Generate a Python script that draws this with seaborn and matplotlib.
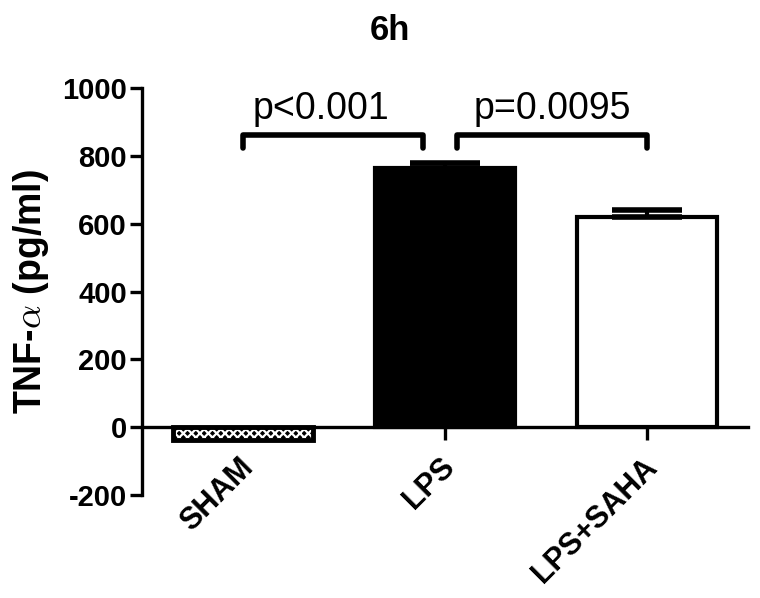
import matplotlib
matplotlib.use("Agg")
import matplotlib.pyplot as plt
import matplotlib.transforms as mtransforms
import seaborn as sns
import pandas as pd

# data
groups = ["SHAM", "LPS", "LPS+SAHA"]
means = [-38, 765, 620]
sems = [0, 13, 20]
comparisons = [("SHAM", "LPS", "p<0.001"), ("LPS", "LPS+SAHA", "p=0.0095")]
bracket_y = 862
bracket_leg = 822

sns.set_theme(style="ticks")
plt.rcParams["font.family"] = ["Liberation Sans", "DejaVu Sans"]
plt.rcParams["mathtext.fontset"] = "cm"
plt.rcParams["axes.unicode_minus"] = False
plt.rcParams["hatch.linewidth"] = 1.6
for k in ["text.color", "axes.labelcolor", "xtick.color", "ytick.color", "axes.edgecolor"]:
    plt.rcParams[k] = "black"

df = pd.DataFrame({"group": groups, "mean": means, "sem": sems})

fig = plt.figure(figsize=(7.6, 5.98), dpi=100)
ax = fig.add_axes([0.187, 0.172, 0.797, 0.681])

sns.barplot(data=df, x="group", y="mean", order=groups, errorbar=None,
            width=0.69, ax=ax, linewidth=3, edgecolor="black")
fills = ["black", "black", "white"]
for patch, fc, grp in zip(ax.patches, fills, groups):
    patch.set_facecolor(fc)
    patch.set_edgecolor("black")
    if grp == "SHAM":
        patch.set_hatch("xxxx")
        patch.set_edgecolor("white")
        patch.set_linewidth(0)

# black outline drawn on top of the hatched SHAM bar
sham = ax.patches[0]
ax.add_patch(plt.Rectangle((sham.get_x(), sham.get_y()), sham.get_width(), sham.get_height(),
                           fill=False, edgecolor="black", linewidth=3.5, zorder=3))

# upward SEM bars
for i, (m, s) in enumerate(zip(means, sems)):
    if s > 0:
        ax.errorbar(i, m, yerr=[[0], [s]], fmt="none", ecolor="black",
                    elinewidth=3, capsize=25, capthick=4, zorder=4)

# significance brackets
for a, b, txt in comparisons:
    ia, ib = groups.index(a), groups.index(b)
    if ia == 0:
        x1, x2 = ia, ib - 0.11
        tx = (x1 + x2) / 2 - 0.06
    else:
        x1, x2 = ia + 0.06, ib
        tx = (x1 + x2) / 2
    ax.plot([x1, x1, x2, x2], [bracket_leg, bracket_y, bracket_y, bracket_leg],
            color="black", lw=4, solid_capstyle="round", solid_joinstyle="round")
    ax.text(tx, bracket_y + 22, txt, ha="center", va="bottom", fontsize=27)

ax.set_xlim(-0.5, 2.5)
ax.set_ylim(-200, 1000)
ax.set_yticks([-200, 0, 200, 400, 600, 800, 1000])
ax.spines["bottom"].set_position(("data", 0))
ax.spines["top"].set_visible(False)
ax.spines["right"].set_visible(False)
for sp in ["left", "bottom"]:
    ax.spines[sp].set_linewidth(2.4)
ax.tick_params(axis="both", width=2.4, length=9, labelsize=21)
ax.tick_params(axis="y", pad=2)
ax.tick_params(axis="x", pad=9)
for lab in ax.get_yticklabels():
    lab.set_fontweight("bold")
ax.set_xticks(range(len(groups)))
ax.set_xticklabels(groups, rotation=45, ha="right", va="top", rotation_mode="anchor",
                   fontweight="bold", fontsize=22)
shift = mtransforms.ScaledTranslation(-0.05, 0, fig.dpi_scale_trans)
for lab in ax.get_xticklabels():
    lab.set_transform(lab.get_transform() + shift)
ax.set_xlabel("")
ax.set_ylabel(r"TNF-$\alpha$ (pg/ml)", fontsize=27, fontweight="bold", labelpad=8)

fig.text(390 / 760, 1 - 30 / 598, "6h", ha="center", va="center",
         fontsize=25, fontweight="bold")

fig.savefig("out.png", dpi=100)
